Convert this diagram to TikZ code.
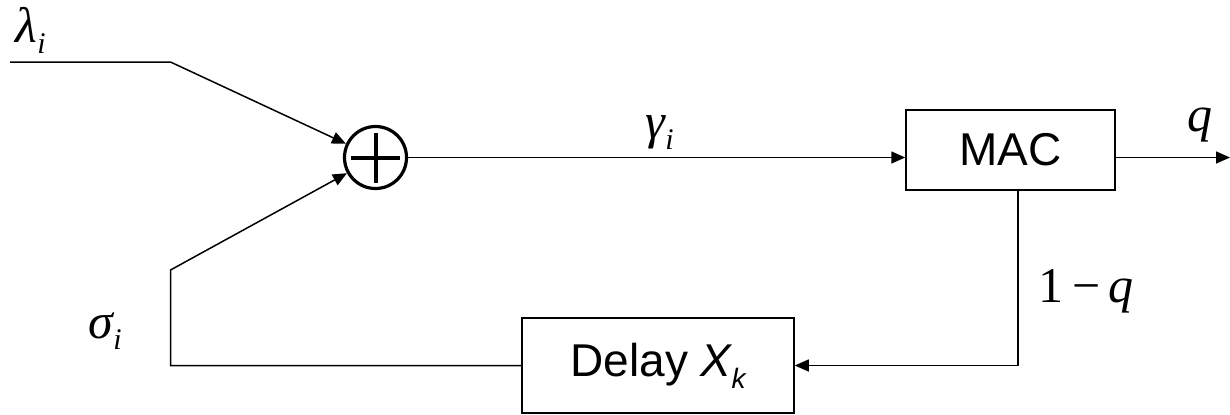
\documentclass[tikz,border=0pt]{standalone}
\usepackage{fontspec}
\setmainfont{Liberation Sans}
\newfontfamily\labfont{Liberation Serif}
\usetikzlibrary{arrows.meta}

\newcommand\lowsub[1]{\raisebox{-5.5pt}{\fontsize{15}{15}\selectfont #1}}

\tikzset{
  blockbox/.style={draw, inner sep=0pt, font=\fontsize{23}{28}\selectfont},
  mathlabel/.style={inner sep=0pt, anchor=base west, font=\labfont\fontsize{25}{30}\selectfont}
}

\begin{document}
\begin{tikzpicture}[x=0.5pt, y=-0.5pt, line width=0.75pt, >={Triangle[length=7pt,width=6pt]}]
\useasboundingbox (0,0) rectangle (1230,414);

% Summain
\node[circle, draw, line width=1.6pt, inner sep=0pt, minimum size=31pt] (sum) at (375.5,157.5) {};
\draw[line width=2pt] (sum.center) ++(-24.5,0) -- ++(49,0);
\draw[line width=2pt] (sum.center) ++(0,-25) -- ++(0,50);

% Lohkot
\node[blockbox, minimum width=104.5pt, minimum height=40pt] (mac) at (1010.5,150) {MAC};
\node[blockbox, minimum width=136pt, minimum height=47.5pt] (delay) at (658,365.5) {Delay {\itshape X\raisebox{-6pt}{\fontsize{14}{14}\selectfont k}}};

% Apupisteet
\coordinate (lamin) at (10,62);
\coordinate (lambend) at (170.5,62);
\coordinate (qend) at (1230,157.5);
\coordinate (fbtop) at (170.5,270);

% Yhteydet
\draw[->] (lamin) -- (lambend) -- (sum);
\draw[->] (sum) -- (sum -| mac.west);
\draw[->] (mac.east |- sum) -- (qend);
\draw[->] ([xshift=3.75pt]mac.south) |- (delay.east);
\draw[->] (delay.west) -| (fbtop) -- (sum);

% Merkinnat
\node[mathlabel] (lamlab) at (15,42) {\itshape λ\lowsub{i}};
\node[mathlabel] (gamlab) at (645,138) {\itshape γ\lowsub{i}};
\node[mathlabel] (qlab) at (1187,131) {\itshape q};
\node[mathlabel] (qlosslab) at (1038,302) {1\,−\,\itshape q};
\node[mathlabel] (siglab) at (88,338) {\itshape σ\lowsub{i}};

\end{tikzpicture}
\end{document}
